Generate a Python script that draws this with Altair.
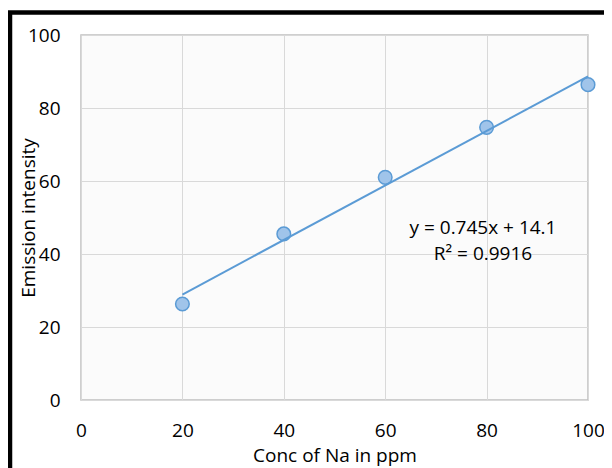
import altair as alt
import pandas as pd

# data
conc = [20, 40, 60, 80, 100]
intensity = [26.3, 45.5, 61.0, 74.7, 86.4]
x_ticks = [0, 20, 40, 60, 80, 100]
y_ticks = [0, 20, 40, 60, 80, 100]
eq_text = "y = 0.745x + 14.1"
r2_text = "R² = 0.9916"

df = pd.DataFrame({"conc": conc, "intensity": intensity})

FONT = "Open Sans"
BLUE = "#5b9bd5"

x_enc = alt.X(
    "conc:Q",
    scale=alt.Scale(domain=[0, 100], nice=False, zero=True),
    axis=alt.Axis(
        values=x_ticks, title="Conc of Na in ppm", grid=True, ticks=False,
        domain=False, labelFlush=False, labelOverlap=False, labelPadding=21,
        titlePadding=6, labelFontSize=19, titleFontSize=19,
        labelFont=FONT, titleFont=FONT, titleFontWeight="normal",
        labelColor="#000000", titleColor="#000000",
    ),
)
y_enc = alt.Y(
    "intensity:Q",
    scale=alt.Scale(domain=[0, 100], nice=False, zero=True),
    axis=alt.Axis(
        values=y_ticks, title="Emission intensity", grid=True, ticks=False,
        domain=False, labelFlush=False, labelOverlap=False, labelPadding=21,
        labelFontSize=19, titleFontSize=19, labelFont=FONT, titleFont=FONT,
        titleFontWeight="normal", labelColor="#000000", titleColor="#000000",
        titleX=-53, titleY=182.5, titleAngle=270, titleAlign="center",
        titleBaseline="middle",
    ),
)

base = alt.Chart(df)

frame = alt.Chart(alt.Data(values=[{"a": 1}])).mark_rect(
    fill="transparent", stroke="#000000", strokeWidth=4.5
).encode(
    x=alt.value(-71), x2=alt.value(700), y=alt.value(-22.5), y2=alt.value(600)
)

points = base.mark_circle(
    size=185, color="#a0c4ea", stroke=BLUE, strokeWidth=1.5, opacity=1
).encode(x=x_enc, y=y_enc)

trend = base.transform_regression(
    "conc", "intensity", extent=[20, 100]
).mark_line(color=BLUE, strokeWidth=2).encode(x="conc:Q", y="intensity:Q")

eq = alt.Chart(alt.Data(values=[{"t": eq_text}])).mark_text(
    font=FONT, fontSize=19, color="#000000", align="center", baseline="middle"
).encode(x=alt.value(402), y=alt.value(193), text="t:N")

r2 = alt.Chart(alt.Data(values=[{"t": r2_text}])).mark_text(
    font=FONT, fontSize=19, color="#000000", align="center", baseline="middle"
).encode(x=alt.value(402), y=alt.value(219), text="t:N")

chart = alt.layer(frame, points, trend, eq, r2).properties(
    width=507,
    height=365,
    padding={"left": 73, "top": 27, "right": 16, "bottom": 68},
    autosize=alt.AutoSizeParams(type="none"),
    background="#ffffff",
).configure_view(
    fill="#fbfbfb", stroke="#c0c0c0", strokeWidth=1.5
).configure_axis(
    gridColor="#d9d9d9", gridWidth=1
)

chart.save("out.html", embed_options={"renderer": "svg", "actions": False})
